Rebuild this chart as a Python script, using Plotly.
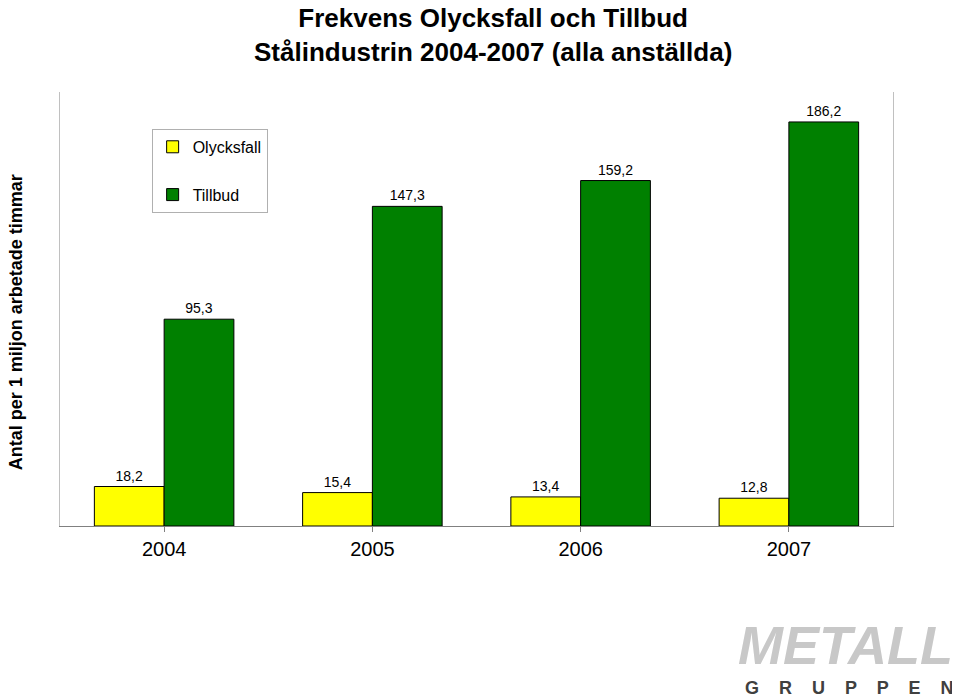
import plotly.graph_objects as go

years = ["2004", "2005", "2006", "2007"]
olycksfall = [18.2, 15.4, 13.4, 12.8]
tillbud = [95.3, 147.3, 159.2, 186.2]

def fmt(v):
    return "{:.1f}".format(v).replace(".", ",")

fig = go.Figure()
fig.add_trace(go.Bar(x=years, y=olycksfall, name="Olycksfall", marker_color="#ffff00",
                     marker_line_color="black", marker_line_width=1, legendgroup="o",
                     text=[fmt(v) for v in olycksfall], textposition="outside",
                     textfont=dict(size=14, color="black"), cliponaxis=False))
fig.add_trace(go.Bar(x=years, y=tillbud, name="Tillbud", marker_color="#008000",
                     marker_line_color="black", marker_line_width=1, legendgroup="t",
                     text=[fmt(v) for v in tillbud], textposition="outside",
                     textfont=dict(size=14, color="black"), cliponaxis=False))

fig.update_layout(
    width=960, height=700, plot_bgcolor="white", paper_bgcolor="white",
    font=dict(family="Liberation Sans, Arial", color="black"),
    barmode="group", bargap=0.33, bargroupgap=0,
    margin=dict(l=52, r=75, t=84, b=182),
    xaxis=dict(showline=True, linecolor="#808080", ticks="outside", tickcolor="#808080",
               tickfont=dict(size=20), automargin=False),
    yaxis=dict(range=[0, 200], showticklabels=False, showgrid=False, showline=True,
               linecolor="#c0c0c0", mirror=True, zeroline=False, automargin=False),
    legend=dict(x=0.11, y=0.915, xanchor="left", yanchor="top", bgcolor="white",
                bordercolor="#b0b0b0", borderwidth=1, font=dict(size=16),
                traceorder="grouped", tracegroupgap=24),
    showlegend=True,
)
fig.add_annotation(text="<b>Frekvens Olycksfall och Tillbud<br>Stålindustrin 2004-2007 (alla anställda)</b>",
                   xref="paper", yref="paper", x=0.52, y=1.21, xanchor="center", yanchor="top",
                   showarrow=False, font=dict(size=26))
fig.add_annotation(text="<b>Antal per 1 miljon arbetade timmar</b>", textangle=-90,
                   xref="paper", yref="paper", x=-0.067, y=0.47, showarrow=False,
                   font=dict(size=18))
fig.add_annotation(text="<b><i>METALL</i></b>", xref="paper", yref="paper", x=1.075, y=-0.2,
                   xanchor="right", yanchor="top", showarrow=False,
                   font=dict(size=54, color="#c8c8c8"))
fig.add_annotation(text="<b>G    R    U    P    P    E    N</b>", xref="paper", yref="paper",
                   x=1.075, y=-0.345, xanchor="right", yanchor="top", showarrow=False,
                   font=dict(size=18, color="#404040"))
fig.write_html("out.html")
